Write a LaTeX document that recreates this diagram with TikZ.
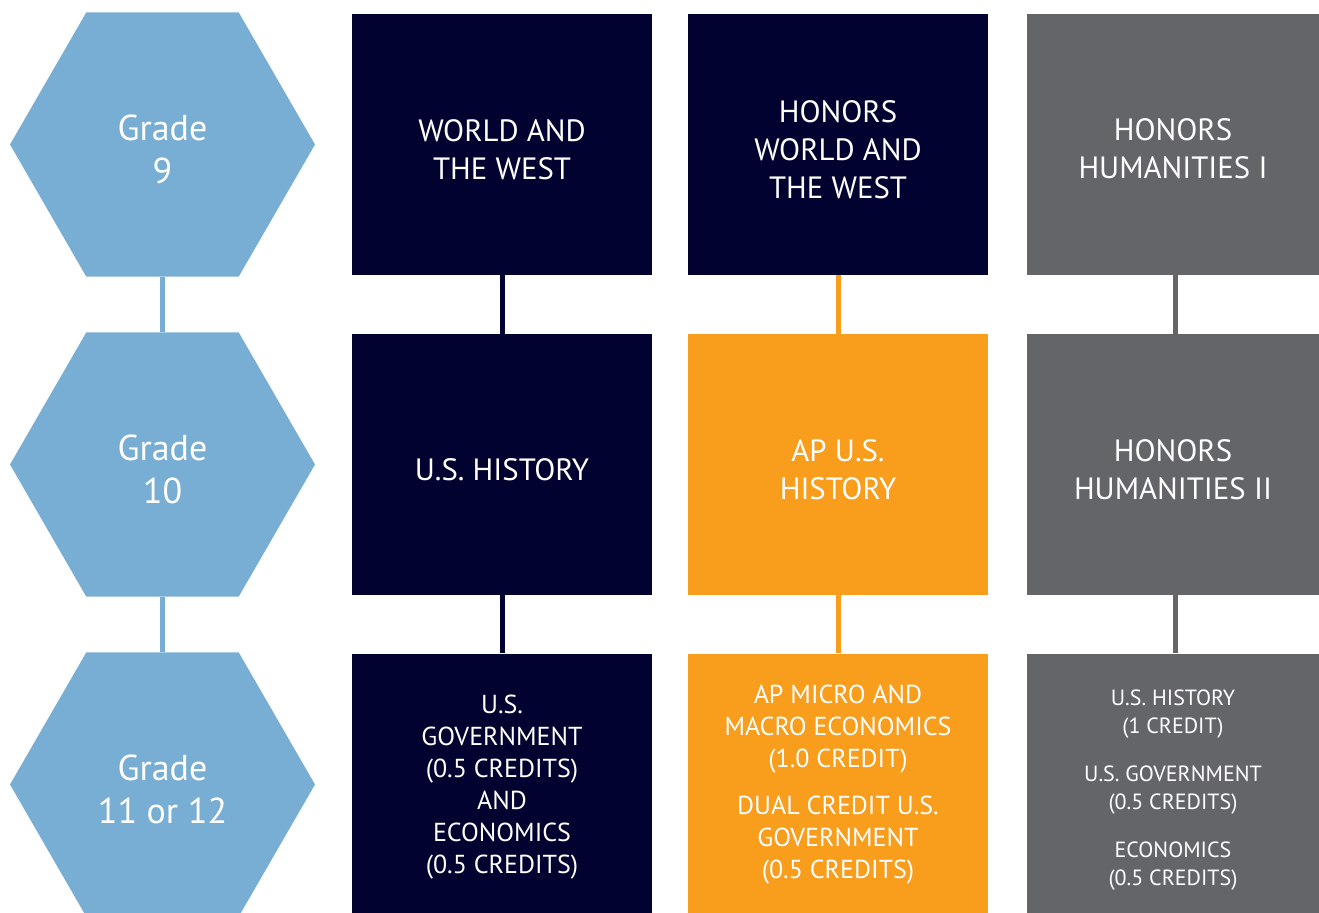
\documentclass[tikz,border=0pt]{standalone}
\usepackage{fontspec}
\setmainfont{PT Sans}
\usetikzlibrary{shapes.geometric}
\definecolor{hexblue}{RGB}{121,174,212}
\definecolor{navy}{RGB}{2,2,48}
\definecolor{apor}{RGB}{248,157,28}
\definecolor{hgray}{RGB}{99,101,105}
\begin{document}
\begin{tikzpicture}[x=0.5pt,y=-0.5pt,
  hexa/.style={regular polygon, regular polygon sides=6, minimum size=152.5pt, inner sep=0pt, fill=hexblue},
  cbox/.style={rectangle, minimum width=150pt, minimum height=130.5pt, inner sep=0pt},
  txt/.style={text=white, align=center, inner sep=0pt, font=\fontsize{15.4}{19}\selectfont},
  gradetxt/.style={txt, font=\fontsize{18}{21.5}\selectfont},
  smalltxt/.style={txt, font=\fontsize{13}{16}\selectfont},
  tinytxt/.style={txt, font=\fontsize{11}{14}\selectfont},
  link/.style={line width=2.5pt}]
\useasboundingbox (0,0) rectangle (1319,912);
% hexagons
\node[hexa] (g9) at (162.5,144.5) {};
\node[hexa] (g10) at (162.5,464.5) {};
\node[hexa] (g11) at (162.5,784.5) {};
\node[gradetxt] (t9) at ([yshift=-2.5pt]g9.center) {Grade\\9};
\node[gradetxt] (t10) at ([yshift=-2.5pt]g10.center) {Grade\\10};
\node[gradetxt] (t11) at ([yshift=-2.5pt]g11.center) {Grade\\11 or 12};
\draw[link, hexblue] (g9.south) -- (g10.north);
\draw[link, hexblue] (g10.south) -- (g11.north);
% column 1
\node[cbox, fill=navy] (a1) at (502,144.5) {};
\node[cbox, fill=navy] (a2) at (502,464.5) {};
\node[cbox, fill=navy] (a3) at (502,784) {};
\node[txt] (ta1) at ([yshift=-2.5pt]a1.center) {WORLD AND\\THE WEST};
\node[txt] (ta2) at ([yshift=-2.5pt]a2.center) {U.S. HISTORY};
\node[smalltxt] (ta3) at ([yshift=-1.5pt]a3.center) {U.S.\\GOVERNMENT\\(0.5 CREDITS)\\AND\\ECONOMICS\\(0.5 CREDITS)};
\draw[link, navy] (a1.south) -- (a2.north);
\draw[link, navy] (a2.south) -- (a3.north);
% column 2
\node[cbox, fill=navy] (b1) at (838,144.5) {};
\node[cbox, fill=apor] (b2) at (838,464.5) {};
\node[cbox, fill=apor] (b3) at (838,784) {};
\node[txt] (tb1) at ([yshift=-2.5pt]b1.center) {HONORS\\WORLD AND\\THE WEST};
\node[txt] (tb2) at ([yshift=-2.5pt]b2.center) {AP U.S.\\HISTORY};
\node[smalltxt] (tb3) at ([yshift=-0.5pt]b3.center) {AP MICRO AND\\MACRO ECONOMICS\\(1.0 CREDIT)\\[7.5pt]DUAL CREDIT U.S.\\GOVERNMENT\\(0.5 CREDITS)};
\draw[link, apor] (b1.south) -- (b2.north);
\draw[link, apor] (b2.south) -- (b3.north);
% column 3
\node[cbox, fill=hgray, minimum width=146pt] (c1) at (1173,144) {};
\node[cbox, fill=hgray, minimum width=146pt] (c2) at (1173,464.5) {};
\node[cbox, fill=hgray, minimum width=146pt] (c3) at (1173,784) {};
\node[txt] (tc1) at ([yshift=-2.5pt]c1.center) {HONORS\\HUMANITIES I};
\node[txt] (tc2) at ([yshift=-2.5pt]c2.center) {HONORS\\HUMANITIES II};
\node[tinytxt] (tc3) at ([yshift=-3pt]c3.center) {U.S. HISTORY\\(1 CREDIT)\\[10pt]U.S. GOVERNMENT\\(0.5 CREDITS)\\[10pt]ECONOMICS\\(0.5 CREDITS)};
\draw[link, hgray] ([xshift=1pt]c1.south) -- ([xshift=1pt]c2.north);
\draw[link, hgray] ([xshift=1pt]c2.south) -- ([xshift=1pt]c3.north);
\end{tikzpicture}
\end{document}
